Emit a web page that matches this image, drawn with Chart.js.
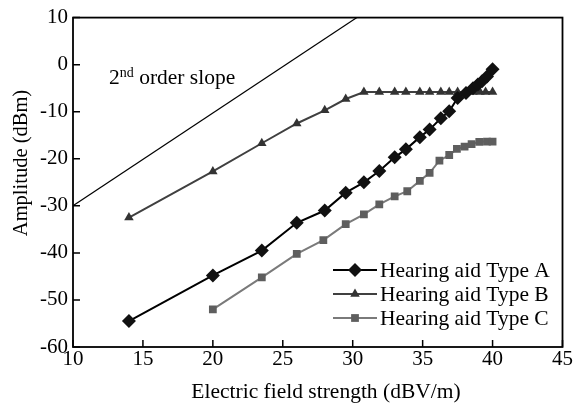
<!DOCTYPE html>
<html>
<head>
<meta charset="utf-8">
<script src="https://cdn.jsdelivr.net/npm/chart.js@4.4.0/dist/chart.umd.min.js"></script>
<style>
  html, body { margin: 0; padding: 0; background: #fff; }
  #chart { display: block; }
</style>
</head>
<body>
<canvas id="chart" width="573" height="403"></canvas>
<script>
// values
const xTypeA = [14, 20, 23.5, 26, 28, 29.5, 30.8, 31.9, 33, 33.8, 34.8, 35.5, 36.3, 36.9, 37.5, 38.1, 38.6, 38.95, 39.25, 39.6, 40];
const typeA  = [-54.5, -44.8, -39.5, -33.6, -31, -27.2, -25, -22.6, -19.7, -18, -15.4, -13.8, -11.4, -9.9, -7.1, -6, -5, -4.2, -3.5, -2.5, -1];

const xTypeB = [14, 20, 23.5, 26, 28, 29.5, 30.8, 31.9, 33, 33.8, 34.8, 35.5, 36.3, 36.9, 37.5, 38.1, 38.6, 39.1, 39.5, 40];
const typeB  = [-32.5, -22.7, -16.7, -12.5, -9.7, -7.3, -5.8, -5.8, -5.8, -5.8, -5.8, -5.8, -5.8, -5.8, -5.8, -5.8, -5.8, -5.8, -5.8, -5.8];

const xTypeC = [20, 23.5, 26, 27.9, 29.5, 30.8, 31.9, 33, 33.9, 34.8, 35.5, 36.2, 36.9, 37.45, 38, 38.5, 39.05, 39.6, 40];
const typeC  = [-52, -45.2, -40.2, -37.3, -33.9, -31.8, -29.7, -28, -26.9, -24.7, -23, -20.4, -19.2, -17.9, -17.4, -16.9, -16.4, -16.35, -16.35];

const xSlope = [10, 30.3];
const slope  = [-30, 10];

const xTicks = [10, 15, 20, 25, 30, 35, 40, 45];
const yTicks = [10, 0, -10, -20, -30, -40, -50, -60];

const serif = "'Liberation Serif', 'Times New Roman', serif";

function pts(xs, ys) {
  return xs.map((x, i) => ({ x: x, y: ys[i] }));
}

const ctxEl = document.getElementById("chart");

// frame, inward ticks, axis titles, slope label and legend
const decor = {
  id: "decor",
  afterDraw(chart) {
    const ctx = chart.ctx;
    const a = chart.chartArea;
    const xs = chart.scales.x, ys = chart.scales.y;
    ctx.save();
    ctx.strokeStyle = "#000";
    ctx.lineWidth = 1.8;
    ctx.strokeRect(a.left, a.top, a.right - a.left, a.bottom - a.top);

    ctx.lineWidth = 1.5;
    ctx.beginPath();
    xTicks.forEach(v => {
      const px = xs.getPixelForValue(v);
      ctx.moveTo(px, a.bottom);
      ctx.lineTo(px, a.bottom - 7);
    });
    yTicks.forEach(v => {
      const py = ys.getPixelForValue(v);
      ctx.moveTo(a.left, py);
      ctx.lineTo(a.left + 7, py);
    });
    ctx.stroke();

    ctx.fillStyle = "#000";
    ctx.font = "21.5px " + serif;
    ctx.textAlign = "center";
    ctx.textBaseline = "middle";
    ctx.fillText("Electric field strength (dBV/m)", 326, 392);

    ctx.save();
    ctx.translate(22, 163);
    ctx.rotate(-Math.PI / 2);
    ctx.font = "20.5px " + serif;
    ctx.fillText("Amplitude (dBm)", 0, 0);
    ctx.restore();

    // 2nd order slope label
    ctx.textAlign = "left";
    ctx.textBaseline = "alphabetic";
    let tx = 109, ty = 84;
    ctx.font = "21.5px " + serif;
    ctx.fillText("2", tx, ty);
    tx += ctx.measureText("2").width;
    ctx.font = "14px " + serif;
    ctx.fillText("nd", tx, ty - 7);
    tx += ctx.measureText("nd").width;
    ctx.font = "21.5px " + serif;
    ctx.fillText(" order slope", tx, ty);

    // legend
    const rows = [270, 294, 318];
    ctx.textBaseline = "middle";
    chart.data.datasets.slice(0, 3).forEach((ds, i) => {
      const y = rows[i];
      ctx.strokeStyle = ds.borderColor;
      ctx.lineWidth = ds.borderWidth;
      ctx.beginPath();
      ctx.moveTo(333, y);
      ctx.lineTo(377, y);
      ctx.stroke();
      ctx.fillStyle = ds.pointBackgroundColor;
      ctx.strokeStyle = ds.pointBorderColor;
      Chart.helpers.drawPoint(ctx, {
        pointStyle: ds.pointStyle,
        radius: ds.pointRadius,
        rotation: 0,
        borderWidth: 0
      }, 355, y);
      ctx.fillStyle = "#000";
      ctx.font = "21.5px " + serif;
      ctx.fillText(ds.label, 380, y + 1);
    });
    ctx.restore();
  }
};

const data = {
  datasets: [{
    label: "Hearing aid Type A",
    data: pts(xTypeA, typeA),
    borderColor: "#000",
    borderWidth: 2,
    pointStyle: "rectRot",
    pointRadius: 7,
    pointBackgroundColor: "#111",
    pointBorderColor: "#111",
    pointBorderWidth: 0
  }, {
    label: "Hearing aid Type B",
    data: pts(xTypeB, typeB),
    borderColor: "#404040",
    borderWidth: 2,
    pointStyle: "triangle",
    pointRadius: 5.5,
    pointBackgroundColor: "#333",
    pointBorderColor: "#333",
    pointBorderWidth: 0
  }, {
    label: "Hearing aid Type C",
    data: pts(xTypeC, typeC),
    borderColor: "#7a7a7a",
    borderWidth: 2,
    pointStyle: "rect",
    pointRadius: 5.5,
    pointBackgroundColor: "#5e5e5e",
    pointBorderColor: "#5e5e5e",
    pointBorderWidth: 0
  }, {
    label: "2nd order slope",
    data: pts(xSlope, slope),
    borderColor: "#000",
    borderWidth: 1.2,
    pointRadius: 0
  }]
};

const config = {
  type: "line",
  data,
  options: {
    responsive: false,
    animation: false,
    layout: { padding: { top: 15, right: 10, left: 0, bottom: 0 } },
    plugins: {
      legend: { display: false },
      tooltip: { enabled: false }
    },
    elements: { line: { tension: 0 } },
    scales: {
      x: {
        type: "linear",
        min: 10,
        max: 45,
        afterFit: s => { s.height = 56; },
        afterBuildTicks: s => { s.ticks = xTicks.map(v => ({ value: v })); },
        grid: { display: false, drawTicks: false },
        border: { display: false },
        ticks: { color: "#000", padding: 0, maxRotation: 0, font: { family: serif, size: 21 } }
      },
      y: {
        type: "linear",
        min: -60,
        max: 10,
        afterFit: s => { s.width = 73; },
        afterBuildTicks: s => { s.ticks = yTicks.map(v => ({ value: v })); },
        grid: { display: false, drawTicks: false },
        border: { display: false },
        ticks: { color: "#000", padding: 5, font: { family: serif, size: 21 } }
      }
    }
  },
  plugins: [decor]
};

const myChart = new Chart(ctxEl, config);
</script>
</body>
</html>
